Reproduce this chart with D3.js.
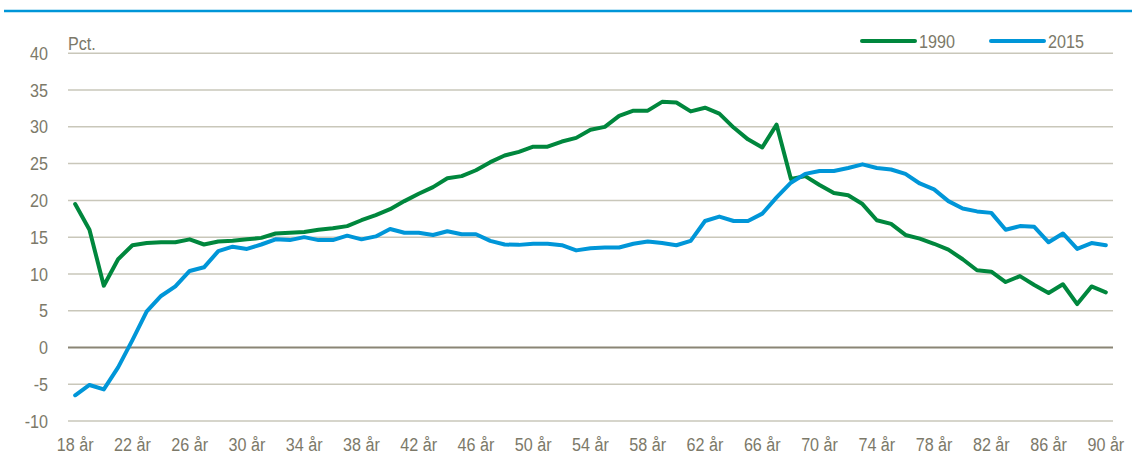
<!DOCTYPE html>
<html>
<head>
<meta charset="utf-8">
<script src="https://cdn.jsdelivr.net/npm/d3@7"></script>
<style>
  body { margin: 0; background: #fff; }
  svg text { font-family: "Liberation Sans", Arial, sans-serif; fill: #7c7969; }
</style>
</head>
<body>
<svg id="chart"></svg>
<script>
let ages = d3.range(18, 91);

let values1990 = [
  19.5, 16.0, 8.4, 12.0, 13.9, 14.2, 14.3, 14.3, 14.7, 14.0, 14.4, 14.5, 14.7, 14.9, 15.5, 15.6, 15.7, 16.0,
  16.2, 16.5, 17.3, 18.0,
  18.8, 19.9, 20.9, 21.8, 23.0, 23.3, 24.1, 25.2, 26.1, 26.6,
  27.3, 27.3, 28.0, 28.5, 29.6, 30.0, 31.5, 32.2, 32.2, 33.4,
  33.3, 32.1, 32.6, 31.8, 29.9, 28.3, 27.2, 30.3, 22.9, 23.3,
  22.1, 21.0, 20.7, 19.5, 17.3, 16.8, 15.3, 14.8, 14.1, 13.3,
  12.0, 10.5, 10.3, 8.9, 9.7, 8.5, 7.4, 8.6, 5.9, 8.3,
  7.5
];

let values2015 = [
  -6.5, -5.1, -5.7, -2.7, 1.0, 4.9, 7.0, 8.3, 10.4, 10.9, 13.1, 13.7, 13.4, 14.0, 14.7, 14.6, 15.0, 14.6,
  14.6, 15.2, 14.7, 15.1,
  16.1, 15.6, 15.6, 15.3, 15.8, 15.4, 15.4, 14.5, 14.0, 13.95,
  14.1, 14.1, 13.9, 13.2, 13.5, 13.6, 13.6, 14.1, 14.4, 14.2,
  13.9, 14.5, 17.2, 17.8, 17.2, 17.2, 18.2, 20.4, 22.4, 23.6,
  24.0, 24.0, 24.4, 24.9, 24.4, 24.2, 23.6, 22.3, 21.5, 19.9,
  18.9, 18.5, 18.3, 16.0, 16.5, 16.4, 14.3, 15.5, 13.4, 14.2,
  13.9
];

let seriesNames = ['1990', '2015'];
let colors = ['#00873d', '#0096d8'];
let yTicks = [-10, -5, 0, 5, 10, 15, 20, 25, 30, 35, 40];
let xTickAges = d3.range(18, 91, 4);

let width = 1132, height = 465;
let padding = { top: 53.3, bottom: 44, left: 68, right: 19 };
let narrow = 0.85; // squeeze Liberation Sans to look like a narrow face
let fontSize = '19px';

let svg = d3.select('#chart')
  .attr('width', width)
  .attr('height', height);

// blue rule under the (cropped) title
svg.append('line')
  .attr('x1', 4).attr('x2', width)
  .attr('y1', 11).attr('y2', 11)
  .attr('stroke', '#0096d8')
  .attr('stroke-width', 2.5);

let xScale = d3.scaleBand()
  .domain(ages)
  .range([padding.left, width - padding.right]);

let yScale = d3.scaleLinear()
  .domain([-10, 40])
  .range([height - padding.bottom, padding.top]);

let xPos = a => xScale(a) + xScale.bandwidth() / 2;

// gridlines
svg.append('g')
  .selectAll('line')
  .data(yTicks)
  .enter()
  .append('line')
  .attr('x1', padding.left)
  .attr('x2', width - padding.right)
  .attr('y1', d => yScale(d))
  .attr('y2', d => yScale(d))
  .attr('stroke', d => d === 0 ? '#8a8575' : '#c9c7ba')
  .attr('stroke-width', d => d === 0 ? 2 : 1.5);

// y axis
let yAxis = d3.axisLeft(yScale)
  .tickValues(yTicks)
  .tickFormat(d => `${d}`)
  .tickSize(0)
  .tickPadding(20);

svg.append('g')
  .attr('transform', `translate(${padding.left}, 0)`)
  .call(yAxis)
  .call(g => g.select('.domain').remove())
  .selectAll('text')
  .style('font-size', fontSize)
  .attr('fill', null)
  .attr('x', -20 / narrow)
  .attr('transform', `scale(${narrow},1)`);

// x axis
let xAxis = d3.axisBottom(xScale)
  .tickValues(xTickAges)
  .tickFormat(d => `${d} år`)
  .tickSize(0)
  .tickPadding(17);

svg.append('g')
  .attr('transform', `translate(0, ${yScale(-10)})`)
  .call(xAxis)
  .call(g => g.select('.domain').remove())
  .selectAll('text')
  .style('font-size', fontSize)
  .attr('fill', null)
  .attr('transform', `scale(${narrow},1)`);

svg.append('text')
  .attr('transform', `translate(${padding.left}, 50) scale(${narrow},1)`)
  .style('font-size', fontSize)
  .text('Pct.');

// lines
let line = d3.line()
  .x((d, i) => xPos(ages[i]))
  .y(d => yScale(d));

[values1990, values2015].forEach((vals, k) => {
  svg.append('path')
    .datum(vals)
    .attr('fill', 'none')
    .attr('stroke', colors[k])
    .attr('stroke-width', 4)
    .attr('stroke-linejoin', 'round')
    .attr('stroke-linecap', 'round')
    .attr('d', line);
});

// legend
let legend = svg.selectAll('.legend')
  .data(seriesNames)
  .enter()
  .append('g')
  .attr('class', 'legend')
  .attr('transform', (d, i) => `translate(${862 + i * 129}, 41)`);

legend.append('line')
  .attr('x1', 0).attr('x2', 53)
  .attr('stroke', (d, i) => colors[i])
  .attr('stroke-width', 4)
  .attr('stroke-linecap', 'round');

legend.append('text')
  .attr('transform', `translate(57, 6.5) scale(${narrow},1)`)
  .style('font-size', fontSize)
  .text(d => d);
</script>
</body>
</html>
